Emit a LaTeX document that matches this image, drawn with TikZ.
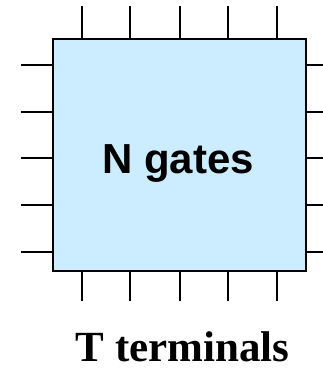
\documentclass[tikz,border=0pt]{standalone}
\usepackage{fontspec}
\setmainfont{Liberation Serif}
\setsansfont{Liberation Sans}
\usepackage{xcolor}
\usepackage{tikz}

\definecolor{chipblue}{RGB}{204,236,255}

\begin{document}
\begin{tikzpicture}[x=1pt, y=1pt, pin/.style={line width=2.5pt, line cap=rect}]
    \useasboundingbox (0,0) rectangle (322,369);

    % Chip body
    \node[draw, line width=2.5pt, fill=chipblue, minimum width=253pt, minimum height=232pt,
          inner sep=0pt] (chip) at (179.5,214) {};
    \node[anchor=base, inner sep=0pt, font=\sffamily\bfseries\fontsize{42}{48}\selectfont] (gates) at (178,195) {N gates};

    % Top and bottom pins
    \foreach \px in {82,130,180,228,277} {
        \draw[pin] (chip.north -| \px,0) -- ++(0,30);
        \draw[pin] (chip.south -| \px,0) -- ++(0,-28);
    }

    % Left and right pins
    \foreach \py in {304,257,211,164,117} {
        \draw[pin] (chip.west |- 0,\py) -- ++(-30,0);
        \draw[pin] (chip.east |- 0,\py) -- ++(18,0);
    }

    % Caption
    \node[anchor=base, font=\bfseries\fontsize{43}{50}\selectfont, inner sep=0pt] (caption) at (182.5,7) {T terminals};
\end{tikzpicture}
\end{document}
